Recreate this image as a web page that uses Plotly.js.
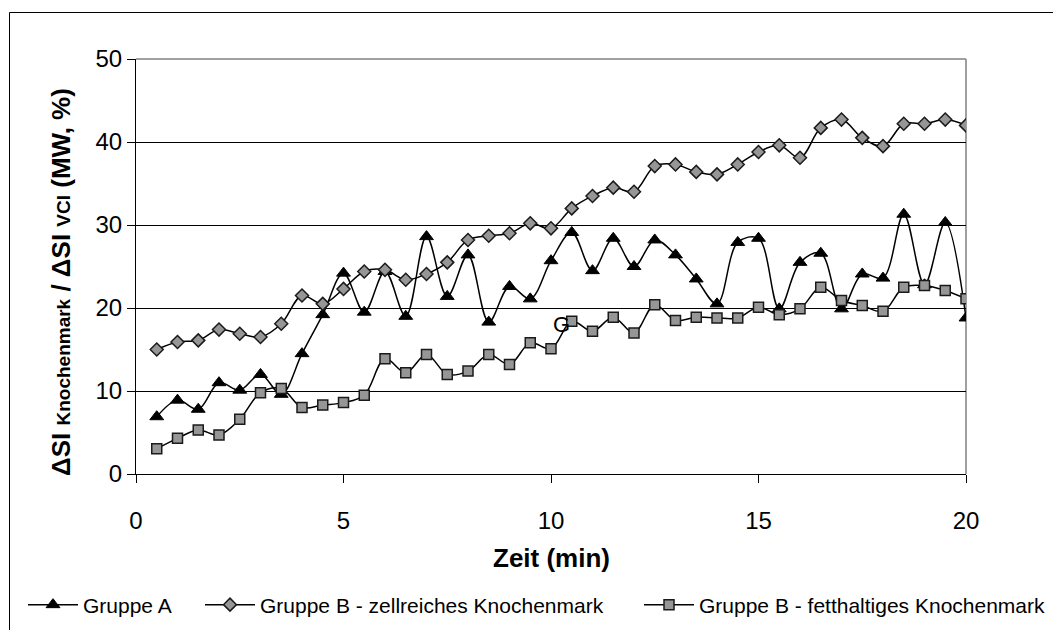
<!DOCTYPE html>
<html>
<head>
<meta charset="utf-8">
<script src="https://cdn.plot.ly/plotly-3.0.1.min.js"></script>
<style>
  html, body { margin: 0; padding: 0; background: #ffffff; }
  #chart { width: 1053px; height: 630px; }
</style>
</head>
<body>
<div id="chart"></div>
<script>
// ---- data ----
const zeit = [0.5, 1, 1.5, 2, 2.5, 3, 3.5, 4, 4.5, 5,
              5.5, 6, 6.5, 7, 7.5, 8, 8.5, 9, 9.5, 10,
              10.5, 11, 11.5, 12, 12.5, 13, 13.5, 14, 14.5, 15,
              15.5, 16, 16.5, 17, 17.5, 18, 18.5, 19, 19.5, 20];

const gruppeA = [6.9, 8.9, 7.8, 11.0, 10.1, 12.0, 9.6, 14.5, 19.2, 24.2,
                 19.5, 24.4, 19.0, 28.6, 21.4, 26.4, 18.3, 22.6, 21.1, 25.7,
                 29.1, 24.5, 28.4, 25.0, 28.2, 26.4, 23.5, 20.5, 27.9, 28.4,
                 19.9, 25.5, 26.6, 19.9, 24.1, 23.6, 31.3, 22.8, 30.3, 18.8];

const gruppeBzell = [15.0, 15.9, 16.1, 17.4, 16.9, 16.5, 18.1, 21.5, 20.5, 22.3,
                     24.4, 24.6, 23.4, 24.1, 25.5, 28.2, 28.7, 29.0, 30.2, 29.6,
                     32.0, 33.5, 34.5, 34.0, 37.1, 37.3, 36.4, 36.1, 37.3, 38.8,
                     39.6, 38.1, 41.7, 42.7, 40.5, 39.5, 42.2, 42.2, 42.7, 42.0];

const gruppeBfett = [3.05, 4.3, 5.3, 4.7, 6.6, 9.8, 10.3, 8.0, 8.3, 8.6,
                     9.5, 13.9, 12.2, 14.4, 12.0, 12.4, 14.4, 13.2, 15.8, 15.1,
                     18.4, 17.2, 18.9, 17.0, 20.4, 18.5, 18.9, 18.8, 18.8, 20.1,
                     19.2, 19.9, 22.5, 20.9, 20.3, 19.6, 22.5, 22.7, 22.1, 21.1];

const seriesNames = ['Gruppe A',
                     'Gruppe B - zellreiches Knochenmark',
                     'Gruppe B - fetthaltiges Knochenmark'];

const xTickVals = [0, 5, 10, 15, 20];
const yTickVals = [0, 10, 20, 30, 40, 50];

const xTitle = '<b>Zeit (min)</b>';
const yTitle = '<b>ΔSI <span style="font-size:19px">Knochenmark</span> / ΔSI <span style="font-size:19px">VCI</span> (MW, %)</b>';

// ---- styling ----
const FONT = 'Arial, "Liberation Sans", sans-serif';
const lineStyle = { color: '#000000', width: 1.5, shape: 'spline', smoothing: 1 };

const traces = [
  {
    x: zeit, y: gruppeA, name: seriesNames[0], type: 'scatter', mode: 'lines+markers',
    line: lineStyle,
    marker: { symbol: 'triangle-up', size: 12, color: '#000000', line: { color: '#000000', width: 1 } },
    legend: 'legend'
  },
  {
    x: zeit, y: gruppeBzell, name: seriesNames[1], type: 'scatter', mode: 'lines+markers',
    line: lineStyle,
    marker: { symbol: 'diamond', size: 10, color: '#969696', line: { color: '#1a1a1a', width: 1.5 } },
    legend: 'legend2'
  },
  {
    x: zeit, y: gruppeBfett, name: seriesNames[2], type: 'scatter', mode: 'lines+markers',
    line: lineStyle,
    marker: { symbol: 'square', size: 10, color: '#969696', line: { color: '#1a1a1a', width: 1.5 } },
    legend: 'legend3'
  }
];

// plot area in pixels: left 136, right 966, top 59, bottom 474
const W = 830, H = 415, L = 136, T = 59;
const px = v => (v - L) / W;
const py = v => (T + H - v) / H;

const legendBase = {
  orientation: 'h', yanchor: 'middle', xanchor: 'left',
  y: py(605), font: { family: FONT, size: 21, color: '#000000' },
  bgcolor: 'rgba(0,0,0,0)', borderwidth: 0, itemwidth: 50
};

const layout = {
  width: 1053, height: 630,
  margin: { l: 136, r: 87, t: 59, b: 156, pad: 0, autoexpand: false },
  paper_bgcolor: '#ffffff', plot_bgcolor: '#ffffff',
  font: { family: FONT, color: '#000000' },
  showlegend: true,
  xaxis: {
    range: [0, 20], tickvals: xTickVals, ticks: 'outside', ticklen: 8, tickwidth: 1,
    tickcolor: '#000000', showline: true, linecolor: '#000000', linewidth: 1,
    showgrid: false, zeroline: false, fixedrange: true, ticklabelstandoff: 17,
    tickfont: { family: FONT, size: 24, color: '#000000' }
  },
  yaxis: {
    range: [0, 50], tickvals: yTickVals, ticks: 'outside', ticklen: 8, tickwidth: 1,
    tickcolor: '#000000', showline: true, linecolor: '#000000', linewidth: 1,
    showgrid: true, gridcolor: '#000000', gridwidth: 1, zeroline: false, fixedrange: true,
    tickfont: { family: FONT, size: 24, color: '#000000' }
  },
  legend: Object.assign({}, legendBase, { x: px(23) }),
  legend2: Object.assign({}, legendBase, { x: px(200) }),
  legend3: Object.assign({}, legendBase, { x: px(639) }),
  annotations: [
    { x: 10.25, y: 18.0, xref: 'x', yref: 'y', text: 'G', showarrow: false,
      font: { family: FONT, size: 22, color: '#000000' } },
    { x: px(551), y: py(558), xref: 'paper', yref: 'paper', text: xTitle, showarrow: false,
      xanchor: 'center', yanchor: 'middle', font: { family: FONT, size: 26, color: '#000000' } },
    { x: px(61), y: py(282), xref: 'paper', yref: 'paper', text: yTitle, showarrow: false,
      textangle: -90, xanchor: 'center', yanchor: 'middle',
      font: { family: FONT, size: 26, color: '#000000' } }
  ],
  shapes: [
    // gray plot-area frame (top and right edges)
    { type: 'line', xref: 'paper', yref: 'paper', x0: 0, x1: 1, y0: 1, y1: 1,
      line: { color: '#808080', width: 1.5 }, layer: 'below' },
    { type: 'line', xref: 'paper', yref: 'paper', x0: 1, x1: 1, y0: 0, y1: 1,
      line: { color: '#808080', width: 1.5 }, layer: 'below' },
    // outer chart border (top and left, running off the picture)
    { type: 'line', xref: 'paper', yref: 'paper', x0: px(9.5), x1: px(1070), y0: py(12.5), y1: py(12.5),
      line: { color: '#000000', width: 1 } },
    { type: 'line', xref: 'paper', yref: 'paper', x0: px(9.5), x1: px(9.5), y0: py(12.5), y1: py(660),
      line: { color: '#000000', width: 1 } }
  ]
};

Plotly.newPlot('chart', traces, layout, { displayModeBar: false, staticPlot: true });
</script>
</body>
</html>
